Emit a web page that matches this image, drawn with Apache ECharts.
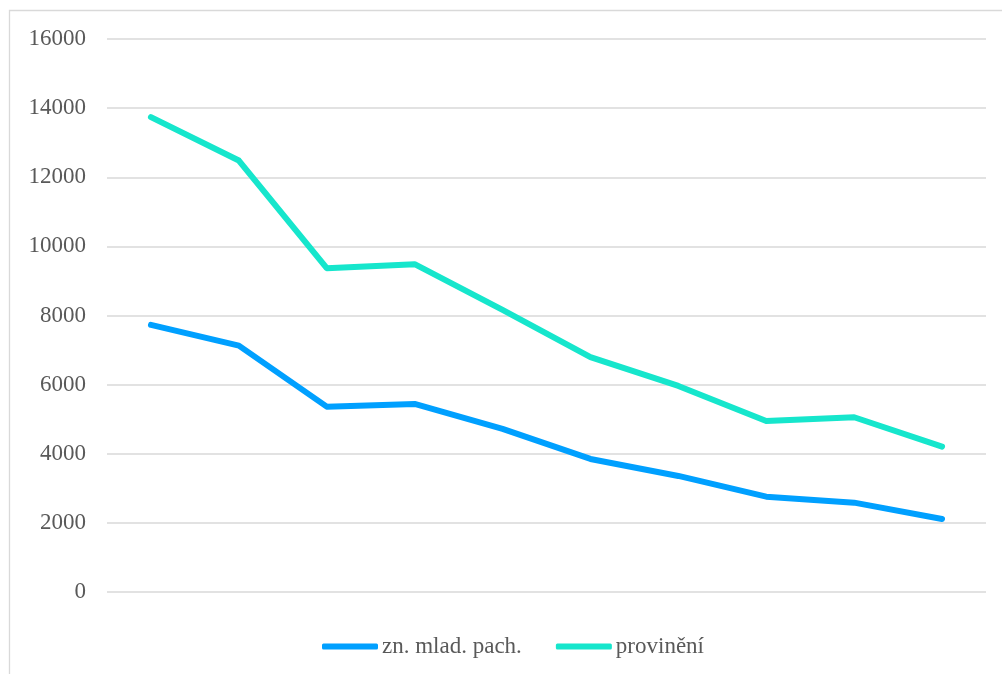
<!DOCTYPE html>
<html>
<head>
<meta charset="utf-8">
<script src="https://cdn.jsdelivr.net/npm/echarts@6/dist/echarts.min.js"></script>
<style>html,body{margin:0;padding:0;background:#fff;}#c{width:1002px;height:674px;}</style>
</head>
<body>
<div id="c"></div>
<script>
var categories = ['1','2','3','4','5','6','7','8','9','10'];
var seriesNames = ['zn. mlad. pach.', 'provinění'];
var mladPach = [7728, 7129, 5363, 5441, 4718, 3850, 3358, 2759, 2585, 2113];
var provineni = [13740, 12483, 9369, 9485, 8162, 6793, 5962, 4949, 5056, 4206];
var yTicks = {min: 0, max: 16000, interval: 2000};

var chart = echarts.init(document.getElementById('c'));
var font = '"Liberation Serif", "Times New Roman", serif';
chart.setOption({
  animation: false,
  backgroundColor: '#fff',
  graphic: [{
    type: 'rect',
    shape: {x: 9.5, y: 10.5, width: 1200, height: 1000},
    style: {fill: 'none', stroke: '#d9d9d9', lineWidth: 1.3},
    silent: true
  }],
  grid: {left: 107, right: 16, top: 39, bottom: 82},
  legend: {
    data: seriesNames,
    left: 317,
    top: 630,
    icon: 'roundRect',
    itemWidth: 56,
    itemHeight: 6,
    itemGap: 34,
    textStyle: {fontFamily: font, fontSize: 23, color: '#595959', padding: [0, 0, 0, -1]}
  },
  xAxis: {
    type: 'category',
    data: categories,
    boundaryGap: true,
    axisLine: {show: false},
    axisTick: {show: false},
    axisLabel: {show: false}
  },
  yAxis: {
    type: 'value',
    min: yTicks.min,
    max: yTicks.max,
    interval: yTicks.interval,
    axisLine: {show: false},
    axisTick: {show: false},
    axisLabel: {fontFamily: font, fontSize: 23, color: '#595959', margin: 21, formatter: function (v) { return String(v); }},
    splitLine: {lineStyle: {color: '#d9d9d9', width: 1.5}}
  },
  series: [{
    name: seriesNames[0],
    type: 'line',
    data: mladPach,
    symbol: 'none',
    color: '#00A0FF',
    lineStyle: {width: 6, color: '#00A0FF', cap: 'round', join: 'round'}
  }, {
    name: seriesNames[1],
    type: 'line',
    data: provineni,
    symbol: 'none',
    color: '#16E6CC',
    lineStyle: {width: 6, color: '#16E6CC', cap: 'round', join: 'round'}
  }]
});
</script>
</body>
</html>
